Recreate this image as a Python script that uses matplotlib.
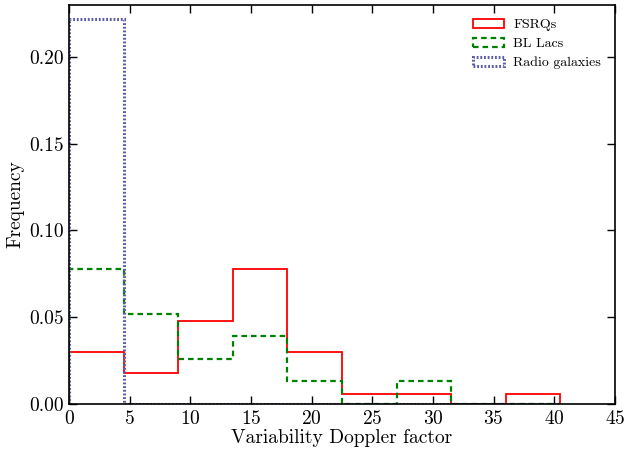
import numpy as np
import matplotlib
matplotlib.use('Agg')
import matplotlib.pyplot as plt

plt.rcParams['font.family'] = 'cmr10'
plt.rcParams['mathtext.fontset'] = 'cm'
plt.rcParams['axes.formatter.use_mathtext'] = True

edges = [0, 4.5, 9, 13.5, 18, 22.5, 27, 31.5, 36, 40.5]
fsrq = [0.030, 0.018, 0.048, 0.078, 0.030, 0.006, 0.006, 0.0, 0.006]
bllac = [0.078, 0.052, 0.026, 0.039, 0.013, 0.0, 0.013, 0.0, 0.0]
radio = [0.222, 0.0, 0.0, 0.0, 0.0, 0.0, 0.0, 0.0, 0.0]

centers = [(a + b) / 2 for a, b in zip(edges[:-1], edges[1:])]

fig = plt.figure(figsize=(6.24, 4.51), dpi=100)
ax = fig.add_axes([0.1106, 0.1042, 0.875, 0.885])

ax.hist(centers, bins=edges, weights=fsrq, histtype='step', color='red', lw=1.3, label='FSRQs')
ax.hist(centers, bins=edges, weights=bllac, histtype='step', color='green', lw=1.6, ls=(0, (2.5, 1.8)), label='BL Lacs')
ax.hist(centers, bins=edges, weights=radio, histtype='step', color='#5c5ca8', lw=2.2, ls=(0, (0.6, 0.6)), label='Radio galaxies')

ax.set_xlim(0, 45)
ax.set_ylim(0, 0.23)
ax.set_xticks(np.arange(0, 46, 5))
ax.set_yticks([0, 0.05, 0.10, 0.15, 0.20])
ax.set_yticklabels(['0.00', '0.05', '0.10', '0.15', '0.20'])
ax.tick_params(direction='in', top=True, right=True, length=6, width=1, labelsize=14, pad=4)
for s in ax.spines.values():
    s.set_linewidth(1.2)

ax.set_xlabel('Variability Doppler factor', fontsize=14, labelpad=1)
ax.set_ylabel('Frequency', fontsize=14, labelpad=3)
ax.legend(loc='upper right', frameon=False, fontsize=10, handlelength=2.2,
          handletextpad=0.7, labelspacing=0.45, borderaxespad=0.6)

fig.savefig('out.png', dpi=100)
